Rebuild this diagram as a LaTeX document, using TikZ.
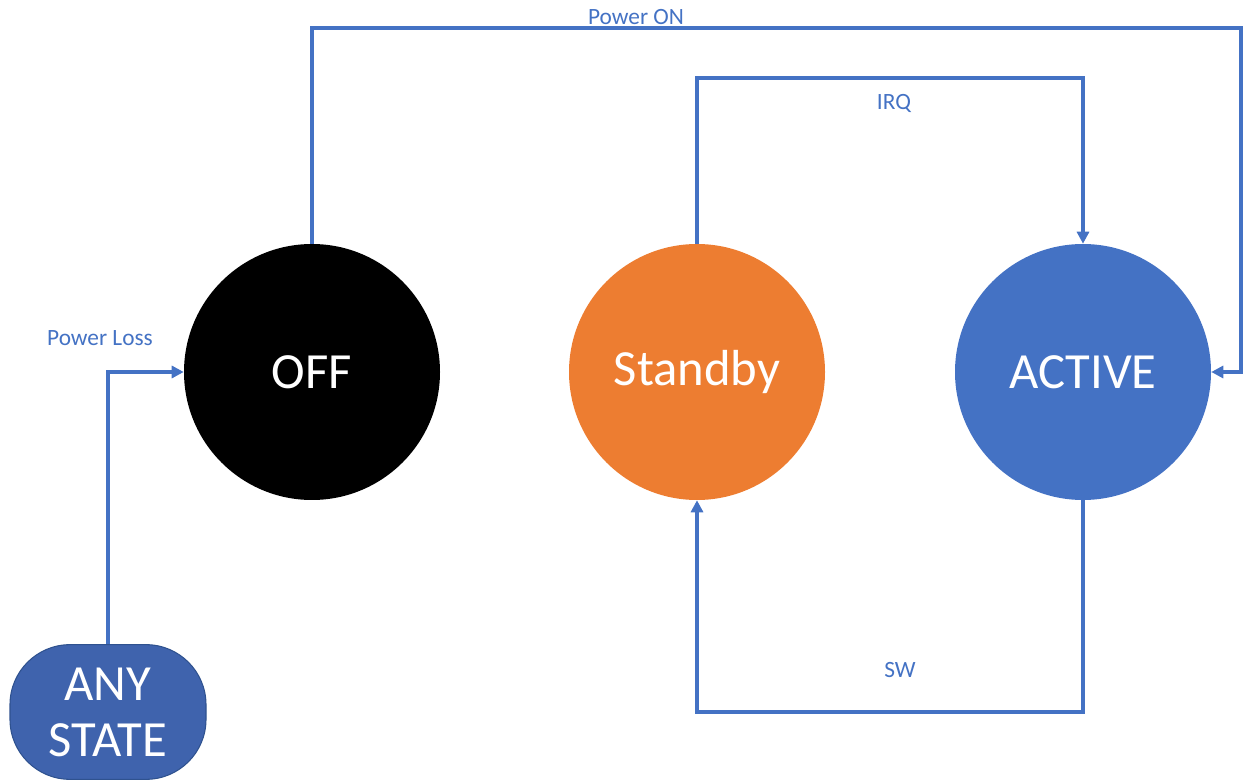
\documentclass[tikz,border=0pt]{standalone}
\usepackage{fontspec}
\setmainfont{Carlito}
\usetikzlibrary{arrows.meta}
\definecolor{lineblue}{HTML}{4472C4}
\definecolor{offblack}{HTML}{000000}
\definecolor{sborange}{HTML}{ED7D31}
\definecolor{actblue}{HTML}{4472C4}
\definecolor{anyfill}{HTML}{3F63AD}
\definecolor{anyedge}{HTML}{2F528F}
\begin{document}
\begin{tikzpicture}[x=0.75pt,y=-0.75pt,
  state/.style={circle,inner sep=0pt,minimum size=192pt,text=white,font=\fontsize{38}{45}\selectfont},
  conn/.style={draw=lineblue,line width=2.4pt,-{Triangle[length=9pt,width=9pt]}},
  lbl/.style={text=lineblue,font=\fontsize{17.5}{21}\selectfont,inner sep=0pt}]
\useasboundingbox (0,0) rectangle (1243,780);
\node[state,fill=offblack] (off) at (312,372) {OFF};
\node[state,fill=sborange] (standby) at (697,372) {Standby};
\node[state,fill=actblue] (active) at (1083,372) {ACTIVE};
\node[fill=anyfill,draw=anyedge,line width=0.8pt,rounded corners=45pt,minimum width=147pt,minimum height=101pt,text=white,align=center,inner sep=0pt,font=\fontsize{38}{42}\selectfont] (any) at (108,712) {ANY\\STATE};
% corner coordinates
\coordinate (pon1) at (312,28);
\coordinate (pon2) at (1241,28);
\coordinate (irq1) at (697,78);
\coordinate (sw1) at (1083,712);
\coordinate (pl1) at (108,372);
\draw[conn] (off.north) -- (pon1) -- (pon2) |- (active.east);
\draw[conn] (standby.north) -- (irq1) -| (active.north);
\draw[conn] (active.south) -- (sw1) -| (standby.south);
\draw[conn] (any.north) -- (pl1) -- (off.west);
\node[lbl] (lon) at (636,17) {Power ON};
\node[lbl] (lirq) at (894,103) {IRQ};
\node[lbl] (lsw) at (900,670) {SW};
\node[lbl] (lpl) at (100,338) {Power Loss};
\end{tikzpicture}
\end{document}
